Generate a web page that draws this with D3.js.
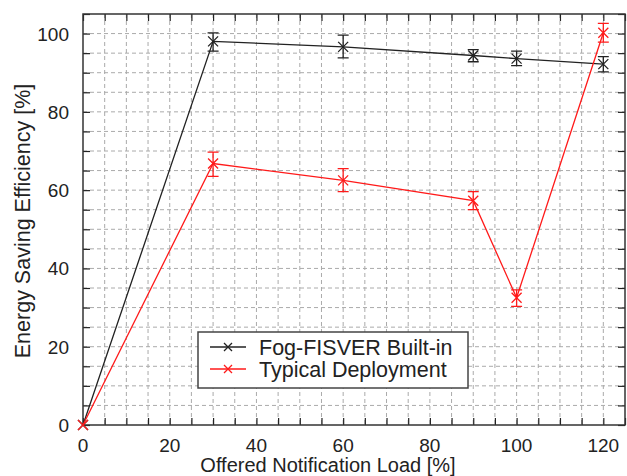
<!DOCTYPE html>
<html>
<head>
<meta charset="utf-8">
<script src="https://cdn.jsdelivr.net/npm/d3@7"></script>
<style>
body { margin: 0; background: #fff; }
text { font-family: "Liberation Sans", Arial, sans-serif; fill: #222; }
</style>
</head>
<body>
<div id="chart"></div>
<script>
// data
var loads = [0, 30, 60, 90, 100, 120];
var fogValues = [0, 98, 96.6, 94.4, 93.6, 92.2];
var fogLow = [0, 95.5, 93.8, 92.8, 91.8, 90.2];
var fogHigh = [0, 100.2, 99.6, 95.9, 95.5, 94.1];
var typValues = [0, 66.8, 62.5, 57.3, 32.5, 100.2];
var typLow = [0, 63.5, 59.6, 55, 30.3, 97.8];
var typHigh = [0, 69.7, 65.5, 59.6, 34.5, 102.6];
var seriesNames = ["Fog-FISVER Built-in", "Typical Deployment"];
var xTicks = [0, 20, 40, 60, 80, 100, 120];
var yTicks = [0, 20, 40, 60, 80, 100];

var W = 627, H = 476;
var pLeft = 83, pRight = 625, pTop = 14, pBottom = 425;

var svg = d3.select("#chart").append("svg").attr("width", W).attr("height", H);

var x = d3.scaleLinear().domain([0, 125]).range([pLeft, pRight]);
var y = d3.scaleLinear().domain([0, 105]).range([pBottom, pTop]);

var minor = d3.range(0, 126, 5);
var minorY = d3.range(0, 106, 5);

//dashed grid every 5 units
var grid = svg.append("g").attr("stroke", "#aaa").attr("stroke-dasharray", "4,3").attr("stroke-width", 1);
grid.selectAll(".gx").data(minor.filter(function (d) { return d > 0 && d < 125; })).enter().append("line")
	.attr("x1", function (d) { return x(d); }).attr("x2", function (d) { return x(d); })
	.attr("y1", pTop).attr("y2", pBottom);
grid.selectAll(".gy").data(minorY.filter(function (d) { return d > 0 && d < 105; })).enter().append("line")
	.attr("y1", function (d) { return y(d); }).attr("y2", function (d) { return y(d); })
	.attr("x1", pLeft).attr("x2", pRight);

//axes with inward ticks on all four sides
var tickLen = 7;
svg.append("g").attr("transform", "translate(0," + pBottom + ")")
	.call(d3.axisBottom(x).tickValues(minor).tickSizeInner(-tickLen).tickSizeOuter(0).tickFormat(""));
svg.append("g").attr("transform", "translate(0," + pTop + ")")
	.call(d3.axisTop(x).tickValues(minor).tickSizeInner(-tickLen).tickSizeOuter(0).tickFormat(""));
svg.append("g").attr("transform", "translate(" + pLeft + ",0)")
	.call(d3.axisLeft(y).tickValues(minorY).tickSizeInner(-tickLen).tickSizeOuter(0).tickFormat(""));
svg.append("g").attr("transform", "translate(" + pRight + ",0)")
	.call(d3.axisRight(y).tickValues(minorY).tickSizeInner(-tickLen).tickSizeOuter(0).tickFormat(""));
svg.selectAll(".domain").remove();
svg.selectAll(".tick line").attr("stroke", "#222").attr("stroke-width", 1.2);

svg.append("rect").attr("x", pLeft).attr("y", pTop).attr("width", pRight - pLeft).attr("height", pBottom - pTop)
	.attr("fill", "none").attr("stroke", "#333").attr("stroke-width", 1.5);

//tick labels
svg.selectAll(".xl").data(xTicks).enter().append("text")
	.attr("x", function (d) { return x(d); }).attr("y", 452)
	.attr("text-anchor", "middle").attr("font-size", 19).text(function (d) { return d; });
svg.selectAll(".yl").data(yTicks).enter().append("text")
	.attr("x", 69).attr("y", function (d) { return y(d) + 7; })
	.attr("text-anchor", "end").attr("font-size", 19).text(function (d) { return d; });

svg.append("text").attr("x", 328).attr("y", 472).attr("text-anchor", "middle").attr("font-size", 20)
	.text("Offered Notification Load [%]");
svg.append("text").attr("transform", "translate(30,221) rotate(-90)").attr("text-anchor", "middle").attr("font-size", 21.5)
	.text("Energy Saving Efficiency [%]");

function drawSeries(vals, lo, hi, color) {
	var g = svg.append("g").attr("stroke", color).attr("fill", "none").attr("stroke-width", 1.3);
	var pts = loads.map(function (d, i) { return [d, vals[i], lo[i], hi[i]]; });
	g.append("path").attr("d", d3.line().x(function (d) { return x(d[0]); }).y(function (d) { return y(d[1]); })(pts));
	var eb = pts.filter(function (d) { return d[3] > d[2]; });
	g.selectAll(".eb").data(eb).enter().append("path")
		.attr("d", function (d) {
			var cx = x(d[0]), a = y(d[3]), b = y(d[2]);
			return "M" + (cx - 5.5) + "," + a + "H" + (cx + 5.5) + "M" + cx + "," + a + "V" + b + "M" + (cx - 5.5) + "," + b + "H" + (cx + 5.5);
		});
	g.selectAll(".mk").data(pts).enter().append("path")
		.attr("d", function (d) {
			var cx = x(d[0]), cy = y(d[1]), s = 5;
			return "M" + (cx - s) + "," + (cy - s) + "L" + (cx + s) + "," + (cy + s) + "M" + (cx - s) + "," + (cy + s) + "L" + (cx + s) + "," + (cy - s);
		});
}
drawSeries(fogValues, fogLow, fogHigh, "#222");
drawSeries(typValues, typLow, typHigh, "#ff1a1a");

//legend
var lg = svg.append("g");
lg.append("rect").attr("x", 198).attr("y", 332).attr("width", 270).attr("height", 56)
	.attr("fill", "#fff").attr("stroke", "#444").attr("stroke-width", 1.5);
var colors = ["#222", "#ff1a1a"];
seriesNames.forEach(function (name, i) {
	var ly = 347 + i * 22;
	lg.append("line").attr("x1", 210).attr("x2", 246).attr("y1", ly).attr("y2", ly).attr("stroke", colors[i]).attr("stroke-width", 1.3);
	lg.append("path").attr("d", "M224," + (ly - 4) + "L232," + (ly + 4) + "M224," + (ly + 4) + "L232," + (ly - 4))
		.attr("stroke", colors[i]).attr("stroke-width", 1.3);
	lg.append("text").attr("x", 259).attr("y", ly + 7.5).attr("font-size", 21.5).text(name);
});
</script>
</body>
</html>
